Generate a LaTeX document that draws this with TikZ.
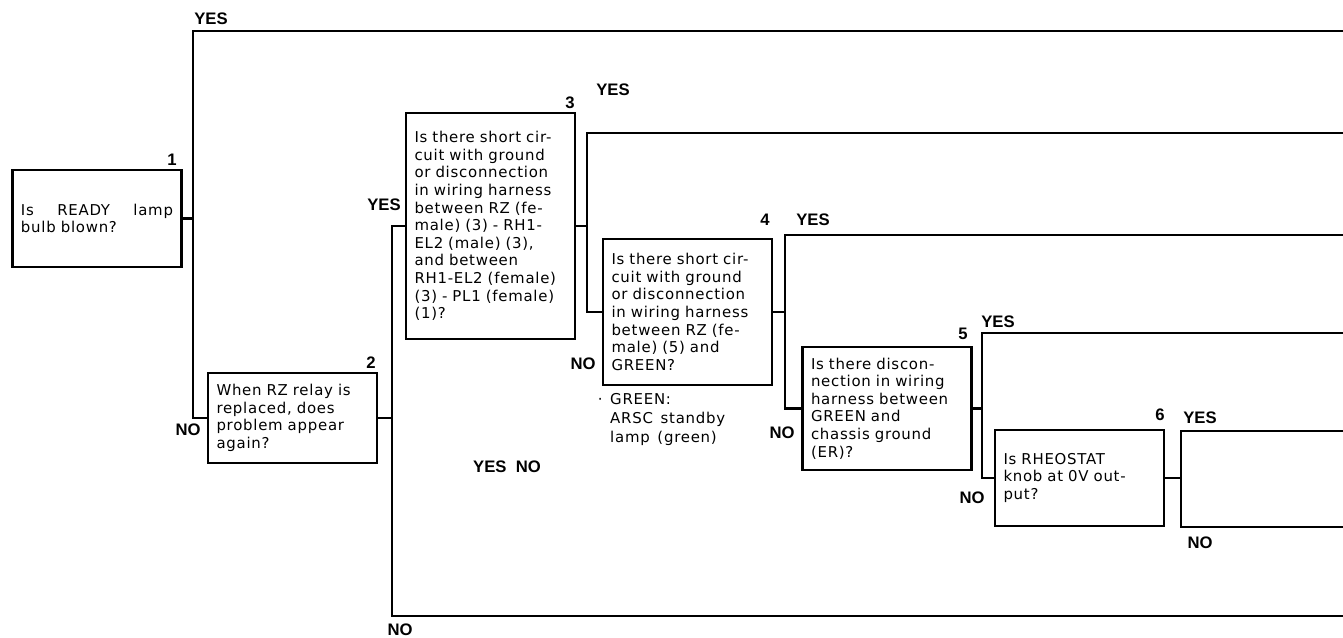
\documentclass[tikz,border=0pt]{standalone}
\usepackage{fontspec}
\setmainfont{Liberation Sans}
\newfontfamily\qfont{DejaVu Sans}[LetterSpace=5,WordSpace=1.4]
\usetikzlibrary{positioning}

\tikzset{every picture/.style={line width=1.8pt}}
\tikzset{
  qbox/.style={draw, align=left, inner xsep=6.5pt, inner ysep=0pt, text width=114pt,
    font=\qfont\fontsize{11.2}{13.2}\selectfont},
  lbl/.style={font=\bfseries\fontsize{12.5}{12}\selectfont, inner sep=0pt},
  note/.style={font=\qfont\fontsize{11.2}{14.2}\selectfont, align=left, inner sep=0pt},
}

\begin{document}
\begin{tikzpicture}[x=0.75pt,y=-0.75pt]
    \useasboundingbox (0,0) rectangle (1343,638);
    % question boxes
    \node[qbox, minimum height=72.75pt] (q1) at (97,218.5) {Is\hfill READY\hfill lamp\\bulb blown?};
    \node[qbox, minimum height=67.5pt] (q2) at (292.5,418) {When RZ relay is\\replaced, does\\problem appear\\again?};
    \node[qbox, minimum height=169.5pt] (q3) at (490.5,226) {Is there short cir-\\cuit with ground\\or disconnection\\in wiring harness\\between RZ (fe-\\male) (3) - RH1-\\EL2 (male) (3),\\and between\\RH1-EL2 (female)\\(3) - PL1 (female)\\(1)?};
    \node[qbox, minimum height=109.5pt] (q4) at (687.5,312) {Is there short cir-\\cuit with ground\\or disconnection\\in wiring harness\\between RZ (fe-\\male) (5) and\\GREEN?};
    \node[qbox, minimum height=92.25pt] (q5) at (887,408.5) {Is there discon-\\nection in wiring\\harness between\\GREEN and\\chassis ground\\(ER)?};
    \node[qbox, minimum height=72pt] (q6) at (1079.5,478) {Is RHEOSTAT\\knob at 0V out-\\put?};
    \node[note, anchor=north west] (green) at (609,392) {\llap{\textperiodcentered\ }GREEN:\\ARSC standby\\lamp (green)};

    % branch points and line ends
    \coordinate (y1) at (193,31);
    \coordinate (e1) at (1343,31);
    \coordinate (n2) at (392,616);
    \coordinate (e2) at (1343,616);
    \coordinate (y3) at (587,133);
    \coordinate (e3) at (1343,133);
    \coordinate (y4) at (785,235);
    \coordinate (e4) at (1343,235);
    \coordinate (y5) at (982,333);
    \coordinate (e5) at (1343,333);
    \coordinate (y6) at (1181,431);
    \coordinate (e6) at (1343,431);
    \coordinate (n6) at (1181,527);
    \coordinate (e7) at (1343,527);

    % connectors
    \draw (q1.east) -- (q1.east -| y1);
    \draw (e1) -- (y1) |- (q2.west);
    \draw (q2.east) -- (q2.east -| n2);
    \draw (q3.west) -| (n2) -- (e2);
    \draw (q3.east) -- (q3.east -| y3);
    \draw (e3) -- (y3) |- (q4.west);
    \draw (q4.east) -- (q4.east -| y4);
    \draw (e4) -- (y4) |- (q5.west);
    \draw (q5.east) -- (q5.east -| y5);
    \draw (e5) -- (y5) |- (q6.west);
    \draw (q6.east) -- (q6.east -| y6);
    \draw (e6) -- (y6) -- (n6) -- (e7);

    % numbers
    \node[lbl] (k1) at (172,160) {1};
    \node[lbl] (k2) at (371,363) {2};
    \node[lbl] (k3) at (570,103) {3};
    \node[lbl] (k4) at (765,220) {4};
    \node[lbl] (k5) at (963,334) {5};
    \node[lbl] (k6) at (1160,415) {6};

    % answers
    \node[lbl] (a1y) at (211,19) {YES};
    \node[lbl] (a1n) at (188,430) {NO};
    \node[lbl] (a2y) at (384,205) {YES};
    \node[lbl] (a2n) at (400,630) {NO};
    \node[lbl] (a3y) at (613,90) {YES};
    \node[lbl] (a3n) at (583,364) {NO};
    \node[lbl] (a4y) at (813,220) {YES};
    \node[lbl] (a4n) at (782,433) {NO};
    \node[lbl] (a5y) at (998,322) {YES};
    \node[lbl] (a5n) at (972,498) {NO};
    \node[lbl] (a6y) at (1200,418) {YES};
    \node[lbl] (a6n) at (1200,543) {NO};
    \node[lbl] (yn) at (507,467) {YES\ \ NO};
\end{tikzpicture}
\end{document}
